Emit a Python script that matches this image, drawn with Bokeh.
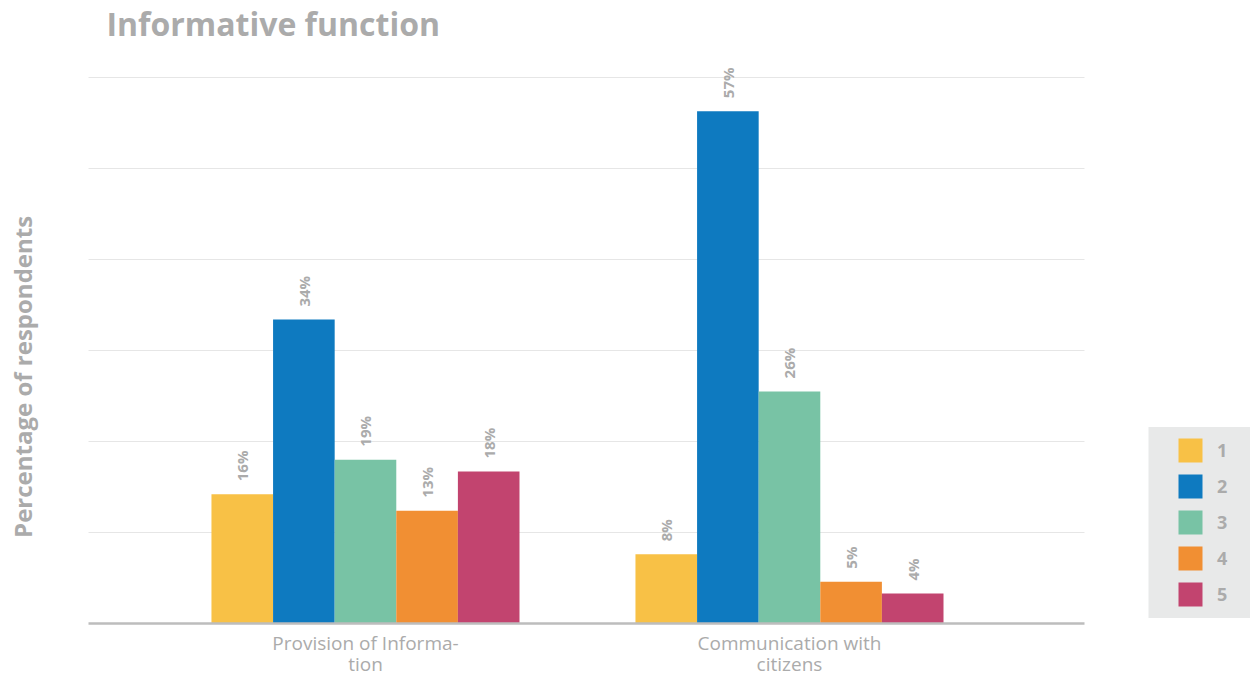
import math
from bokeh.plotting import figure
from bokeh.models import (Legend, LegendItem, FixedTicker, Range1d, ColumnDataSource,
                          Label, BoxAnnotation)
from bokeh.core.properties import value
from bokeh.embed import file_html
from bokeh.resources import INLINE

categories = ["Provision of Informa-\ntion", "Communication with\ncitizens"]
series_names = ["1", "2", "3", "4", "5"]
# bar heights (percent)
s1 = [14.2, 7.6]
s2 = [33.4, 56.3]
s3 = [18.0, 25.5]
s4 = [12.4, 4.6]
s5 = [16.7, 3.3]
# printed value labels
l1 = ["16%", "8%"]
l2 = ["34%", "57%"]
l3 = ["19%", "26%"]
l4 = ["13%", "5%"]
l5 = ["18%", "4%"]
colors = ["#F8C146", "#0E7AC0", "#78C3A5", "#F18F33", "#C2446F"]
grid_ticks = [10, 20, 30, 40, 50, 60]

series = [s1, s2, s3, s4, s5]
labels = [l1, l2, l3, l4, l5]

GRAY = "#ABABAB"
FONT = "Open Sans"
bar_w = 0.1453
# layout (frame spans the whole canvas; 424 px per category, 9.1 px per percent)
x_lo, x_plot_hi = -0.6533, 1.6958
X0, X1 = -0.8608, 2.0873
Y0, Y1 = -6.154, 68.46

p = figure(width=1250, height=679, output_backend="svg", toolbar_location=None,
           x_range=Range1d(X0, X1), y_range=Range1d(Y0, Y1),
           min_border_left=0, min_border_top=0, min_border_bottom=0, min_border_right=0)
p.outline_line_color = None
p.background_fill_color = "white"
p.border_fill_color = "white"

items = []
for i, (vals, labs) in enumerate(zip(series, labels)):
    xs = [c + (i - 2) * bar_w for c in range(len(categories))]
    src = ColumnDataSource(dict(x=xs, top=vals, lab=labs))
    r = p.vbar(x="x", top="top", width=bar_w, bottom=0, source=src,
               fill_color=colors[i], line_color=None)
    p.text(x="x", y="top", text="lab", source=src, angle=math.pi / 2,
           text_align="left", text_baseline="middle", y_offset=-13,
           text_font=value(FONT), text_font_style="bold", text_font_size="15px",
           text_color=GRAY)
    items.append(LegendItem(label=series_names[i], renderers=[r]))

# axes
p.yaxis.visible = False
p.ygrid.ticker = FixedTicker(ticks=grid_ticks)
p.ygrid.grid_line_color = "#E6E6E6"
p.ygrid.grid_line_width = 1
p.ygrid.cross_bounds = (x_lo, x_plot_hi)
p.xgrid.grid_line_color = None

xa = p.xaxis[0]
xa.fixed_location = 0
xa.ticker = FixedTicker(ticks=list(range(len(categories))))
xa.bounds = (x_lo, x_plot_hi)
xa.major_label_overrides = {i: c for i, c in enumerate(categories)}
xa.major_tick_line_color = None
xa.minor_tick_line_color = None
xa.axis_line_color = "#BDBDBD"
xa.axis_line_width = 2.5
xa.major_label_text_color = GRAY
xa.major_label_text_font = FONT
xa.major_label_text_font_size = "19px"
xa.major_label_text_line_height = 0.8
xa.major_label_standoff = 1

box = BoxAnnotation(left=1.8467, right=X1, top=21.6, bottom=0.6,
                    fill_color="#E8E9E9", fill_alpha=1, line_color=None)
p.add_layout(box)

legend = Legend(items=items, location=(1175, 70), orientation="vertical",
                glyph_width=30, glyph_height=30, spacing=6, padding=10,
                label_standoff=12, label_width=20,
                label_text_font=FONT, label_text_font_style="bold",
                label_text_font_size="18px", label_text_color=GRAY,
                background_fill_alpha=0, border_line_color=None, margin=0)
p.add_layout(legend)

title = Label(x=-0.611, y=65.9, text="Informative function",
              text_font=FONT, text_font_style="bold", text_font_size="32px",
              text_color=GRAY, text_align="left", text_baseline="middle")
p.add_layout(title)

ylab = Label(x=-0.809, y=27.1, text="Percentage of respondents", angle=math.pi / 2,
             text_font=FONT, text_font_style="bold", text_font_size="24px",
             text_color=GRAY, text_align="center", text_baseline="middle")
p.add_layout(ylab)

open("out.html", "w").write(file_html(p, INLINE))
